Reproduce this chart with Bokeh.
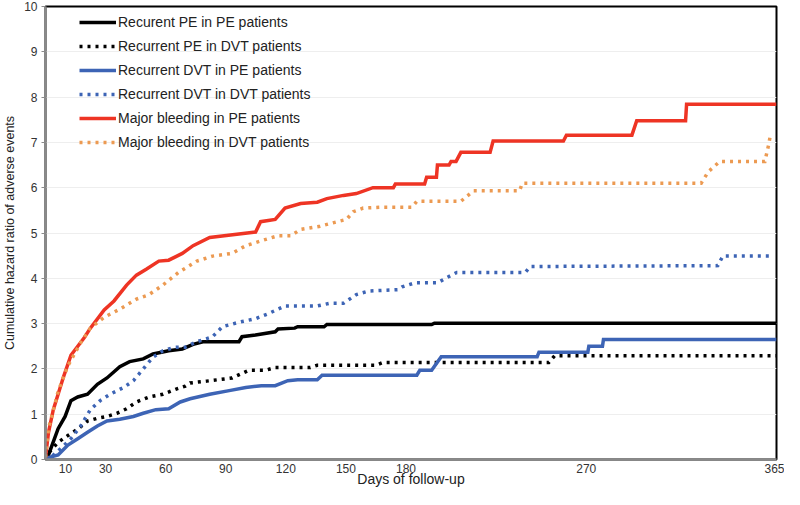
from bokeh.plotting import figure
from bokeh.models import Legend, LegendItem, FixedTicker, Range1d
from bokeh.embed import file_html
from bokeh.resources import INLINE

x_ticks = [10, 30, 60, 90, 120, 150, 180, 270, 365]
y_ticks = list(range(0, 11))

labels = [
    "Recurent PE in PE patients",
    "Recurrent PE in DVT patients",
    "Recurrent DVT in PE patients",
    "Recurrent DVT in DVT patients",
    "Major bleeding in PE patients",
    "Major bleeding in DVT patients",
]

# Recurrent PE in PE patients
pe_pe_days = [0, 1.5, 6.3, 9.8, 12.7, 16.1, 21.0, 25.9, 30.7, 37.1, 42.0, 48.8, 53.7,
              61.5, 68.3, 73.7, 78.6, 96.6, 98.1, 104.9, 114.7, 116.1, 124.4, 125.9,
              139.1, 140.5, 192.8, 194.2, 365]
pe_pe_vals = [0.0, 0.1, 0.68, 0.95, 1.3, 1.38, 1.44, 1.66, 1.8, 2.05, 2.16, 2.22, 2.33,
              2.4, 2.44, 2.54, 2.6, 2.6, 2.71, 2.75, 2.82, 2.88, 2.9, 2.93,
              2.93, 2.98, 2.98, 3.01, 3.01]

# Recurrent PE in DVT patients
pe_dvt_days = [0, 1.5, 6.3, 11.2, 16.1, 21.0, 25.9, 30.7, 35.6, 40.5, 45.4, 51.7, 58.6,
               64.9, 69.8, 72.2, 80.5, 93.2, 101.5, 109.8, 114.7, 132.2, 135.7, 164.9,
               168.4, 251.3, 254.2, 365]
pe_dvt_vals = [0.0, 0.14, 0.38, 0.53, 0.67, 0.85, 0.91, 0.95, 1.02, 1.12, 1.27, 1.38, 1.44,
               1.55, 1.62, 1.69, 1.73, 1.8, 1.97, 1.97, 2.03, 2.03, 2.08, 2.08,
               2.14, 2.14, 2.29, 2.29]

# Recurrent DVT in PE patients
dvt_pe_days = [0, 1.5, 6.3, 11.2, 16.1, 21.0, 25.9, 30.7, 37.1, 43.9, 48.8, 55.1, 61.5,
               67.3, 72.2, 82.0, 91.7, 100.0, 107.8, 114.7, 121.0, 125.9, 135.7, 138.1,
               185.4, 186.9, 192.8, 197.6, 245.5, 246.4, 270.8, 271.3, 278.1, 278.6, 365]
dvt_pe_vals = [0.0, 0.04, 0.1, 0.32, 0.46, 0.6, 0.74, 0.85, 0.89, 0.95, 1.02, 1.1, 1.12,
               1.27, 1.34, 1.44, 1.52, 1.59, 1.63, 1.63, 1.74, 1.76, 1.76, 1.86,
               1.86, 1.97, 1.97, 2.27, 2.27, 2.37, 2.37, 2.5, 2.5, 2.65, 2.65]

# Recurrent DVT in DVT patients
dvt_dvt_days = [0, 2.9, 7.8, 12.7, 17.6, 22.4, 27.3, 32.2, 39.0, 43.9, 48.8, 53.7, 58.6,
                64.9, 69.8, 75.6, 83.4, 88.3, 96.6, 104.9, 111.3, 119.6, 135.7, 142.0,
                148.8, 155.2, 161.5, 176.2, 178.1, 184.5, 195.7, 200.6, 205.4, 239.6,
                242.0, 335.7, 338.2, 361.6]
dvt_dvt_vals = [0.0, 0.06, 0.25, 0.46, 0.74, 1.1, 1.3, 1.44, 1.59, 1.74, 2.0, 2.26, 2.4,
                2.48, 2.48, 2.6, 2.71, 2.93, 3.03, 3.11, 3.22, 3.39, 3.39, 3.45,
                3.45, 3.64, 3.72, 3.75, 3.81, 3.9, 3.9, 4.02, 4.13, 4.13,
                4.26, 4.28, 4.49, 4.49]

# Major bleeding in PE patients
mb_pe_days = [0, 1.5, 3.9, 8.8, 12.7, 19.5, 22.4, 29.3, 34.2, 40.5, 45.4, 50.3, 56.6,
              61.5, 68.3, 73.7, 82.0, 96.6, 104.9, 107.4, 114.7, 119.6, 127.4, 135.7,
              140.5, 148.8, 155.2, 163.5, 173.7, 174.7, 189.3, 190.3, 195.2, 195.7,
              201.5, 202.5, 205.0, 207.4, 222.0, 223.5, 258.6, 260.1, 292.8, 295.2,
              319.6, 320.1, 365]
mb_pe_vals = [0.05, 0.6, 1.1, 1.8, 2.3, 2.7, 2.9, 3.3, 3.5, 3.85, 4.07, 4.2, 4.38,
              4.4, 4.55, 4.72, 4.9, 4.98, 5.02, 5.25, 5.3, 5.55, 5.65, 5.68,
              5.76, 5.83, 5.87, 6.0, 6.0, 6.08, 6.08, 6.23, 6.23, 6.5,
              6.5, 6.58, 6.58, 6.78, 6.78, 7.03, 7.03, 7.16, 7.16, 7.48,
              7.48, 7.84, 7.84]

# Major bleeding in DVT patients
mb_dvt_days = [0, 1.5, 6.3, 11.2, 17.6, 22.4, 29.3, 37.1, 45.4, 51.7, 58.6, 66.4, 75.6,
               83.4, 93.2, 100.0, 107.8, 116.1, 122.5, 127.4, 137.1, 144.0, 150.3, 153.7,
               158.6, 168.4, 183.0, 185.4, 207.4, 213.7, 236.7, 238.1, 327.4, 330.9,
               336.7, 359.2, 361.1, 362.1]
mb_dvt_vals = [0.05, 0.68, 1.5, 2.07, 2.58, 2.9, 3.14, 3.32, 3.54, 3.64, 3.85, 4.13, 4.38,
               4.49, 4.55, 4.72, 4.83, 4.94, 4.94, 5.08, 5.15, 5.23, 5.3, 5.47,
               5.55, 5.57, 5.57, 5.7, 5.7, 5.93, 5.93, 6.1, 6.1, 6.35,
               6.58, 6.58, 6.95, 7.2]

p = figure(width=784, height=489, output_backend="svg", toolbar_location=None,
           x_range=Range1d(0, 365), y_range=Range1d(0, 10),
           min_border_left=0, min_border_right=8, min_border_top=6, min_border_bottom=0)

p.background_fill_color = "white"
p.border_fill_color = "white"
p.outline_line_color = "black"
p.outline_line_width = 2

p.xgrid.grid_line_color = None
p.ygrid.grid_line_color = "#eeeeee"
p.ygrid.grid_line_width = 1

p.xaxis.ticker = FixedTicker(ticks=x_ticks)
p.yaxis.ticker = FixedTicker(ticks=y_ticks)

for ax in (p.xaxis[0], p.yaxis[0]):
    ax.axis_line_color = "#8a8a8a"
    ax.axis_line_width = 2.5
    ax.major_label_text_font = "Liberation Sans"
    ax.major_label_text_font_size = "12px"
    ax.major_label_text_color = "#333333"
    ax.major_label_text_line_height = 1.0
    ax.axis_label_text_font = "Liberation Sans"
    ax.axis_label_text_font_style = "normal"
    ax.axis_label_text_color = "#222222"
    ax.axis_label_text_line_height = 1.0
    ax.minor_tick_line_color = None
    ax.minor_tick_out = 0
    ax.minor_tick_in = 0

p.xaxis.major_tick_line_color = None
p.xaxis.major_tick_out = 0
p.xaxis.major_tick_in = 0
p.xaxis.major_label_standoff = 4
p.xaxis.axis_label = "Days of follow-up"
p.xaxis.axis_label_text_font_size = "14px"
p.xaxis.axis_label_standoff = -5

p.yaxis.major_tick_line_color = "#8a8a8a"
p.yaxis.major_tick_out = 4
p.yaxis.major_tick_in = 0
p.yaxis.major_label_standoff = 4
p.yaxis.axis_label = "Cumulative hazard ratio of adverse events"
p.yaxis.axis_label_text_font_size = "12.5px"
p.yaxis.axis_label_standoff = 4

dot = "3 5"
series = [
    (pe_pe_days, pe_pe_vals, "#000000", "solid", 3.5),
    (pe_dvt_days, pe_dvt_vals, "#000000", dot, 3.5),
    (dvt_pe_days, dvt_pe_vals, "#3d64b5", "solid", 3.5),
    (dvt_dvt_days, dvt_dvt_vals, "#3d64b5", dot, 3.5),
    (mb_pe_days, mb_pe_vals, "#ee3424", "solid", 3.5),
    (mb_dvt_days, mb_dvt_vals, "#ec9a52", dot, 3.5),
]

items = []
for (xs, ys, col, dash, lw), lab in zip(series, labels):
    r = p.line(xs, ys, line_color=col, line_width=lw, line_dash=dash, line_join="miter")
    items.append(LegendItem(label=lab, renderers=[r]))

legend = Legend(items=items, location=(34, 307))
legend.background_fill_alpha = 0
legend.border_line_alpha = 0
legend.label_text_font = "Liberation Sans"
legend.label_text_font_size = "14px"
legend.label_text_color = "#222222"
legend.glyph_width = 37
legend.glyph_height = 20
legend.label_height = 20
legend.label_standoff = 2
legend.spacing = 4
legend.padding = 0
legend.margin = 0
p.add_layout(legend)

open("out.html", "w").write(file_html(p, INLINE))
